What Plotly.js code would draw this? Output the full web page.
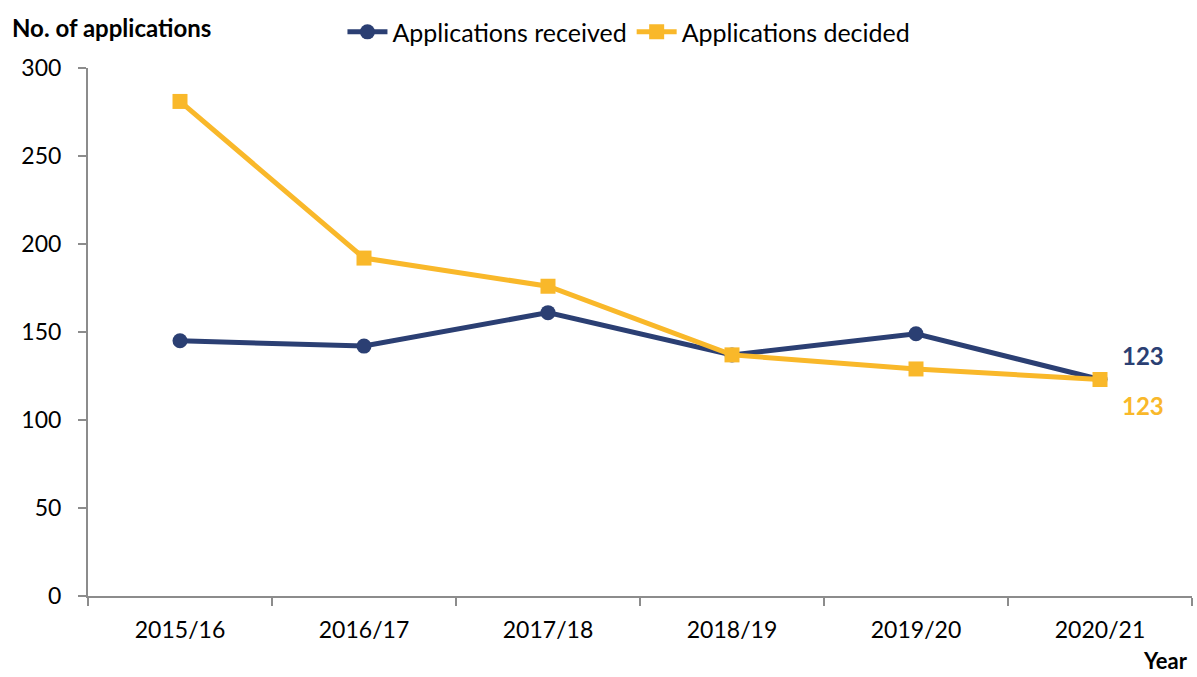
<!DOCTYPE html>
<html>
<head>
<meta charset="utf-8">
<script src="https://cdn.plot.ly/plotly-3.0.1.min.js"></script>
<style>html,body{margin:0;padding:0;background:#fff;}#chart{width:1197px;height:677px;}</style>
</head>
<body>
<div id="chart"></div>
<script>
const years = ["2015/16", "2016/17", "2017/18", "2018/19", "2019/20", "2020/21"];
const received = [145, 142, 161, 137, 149, 123];
const decided = [281, 192, 176, 137, 129, 123];
const yTicks = [0, 50, 100, 150, 200, 250, 300];

const navy = "#2B3F73";
const gold = "#F9B82A";
const font = "Lato, 'Open Sans', sans-serif";

const traces = [
  {
    x: years, y: received, name: "Applications received", type: "scatter", mode: "lines+markers",
    line: {color: navy, width: 5}, marker: {color: navy, size: 15, symbol: "circle"}
  },
  {
    x: years, y: decided, name: "Applications decided", type: "scatter", mode: "lines+markers",
    line: {color: gold, width: 5}, marker: {color: gold, size: 15, symbol: "square"}
  }
];

const last = years.length - 1;
const layout = {
  width: 1197, height: 677,
  margin: {l: 88, r: 5, t: 68, b: 81, autoexpand: false},
  paper_bgcolor: "#fff", plot_bgcolor: "#fff",
  font: {family: font, size: 23, color: "#000"},
  showlegend: true,
  legend: {orientation: "h", x: 0.49, xanchor: "center", y: 1.068, yanchor: "middle",
           font: {family: font, size: 25, color: "#000"}, traceorder: "normal", itemwidth: 40},
  xaxis: {
    type: "category", range: [-0.5, 5.5], tickson: "boundaries",
    showline: true, linecolor: "#8c8c8c", linewidth: 2,
    ticks: "outside", ticklen: 8, tickcolor: "#8c8c8c", tickwidth: 2,
    showgrid: false, zeroline: false, ticklabelstandoff: 12,
    tickfont: {family: font, size: 23, color: "#000"}
  },
  yaxis: {
    range: [0, 300], tickvals: yTicks, ticktext: yTicks.map(String),
    showline: true, linecolor: "#8c8c8c", linewidth: 2,
    ticks: "outside", ticklen: 8, tickcolor: "#8c8c8c", tickwidth: 2,
    showgrid: false, zeroline: false, ticklabelstandoff: 12,
    tickfont: {family: font, size: 23, color: "#000"}
  },
  annotations: [
    {xref: "paper", yref: "paper", x: -0.0707, y: 1.076, xanchor: "left", yanchor: "middle",
     text: "<b>No. of applications</b>", showarrow: false, font: {family: font, size: 24, color: "#000"}},
    {xref: "paper", yref: "paper", x: 0.998, y: -0.122, xanchor: "right", yanchor: "middle",
     text: "<b>Year</b>", showarrow: false, font: {family: font, size: 22, color: "#000"}},
    {x: years[last], y: received[last], xshift: 43, yshift: 24, text: "<b>" + received[last] + "</b>",
     showarrow: false, font: {family: font, size: 24, color: navy}},
    {x: years[last], y: decided[last], xshift: 43, yshift: -26, text: "<b>" + decided[last] + "</b>",
     showarrow: false, font: {family: font, size: 24, color: gold}}
  ]
};

Plotly.newPlot("chart", traces, layout, {displayModeBar: false, staticPlot: true});
</script>
</body>
</html>
